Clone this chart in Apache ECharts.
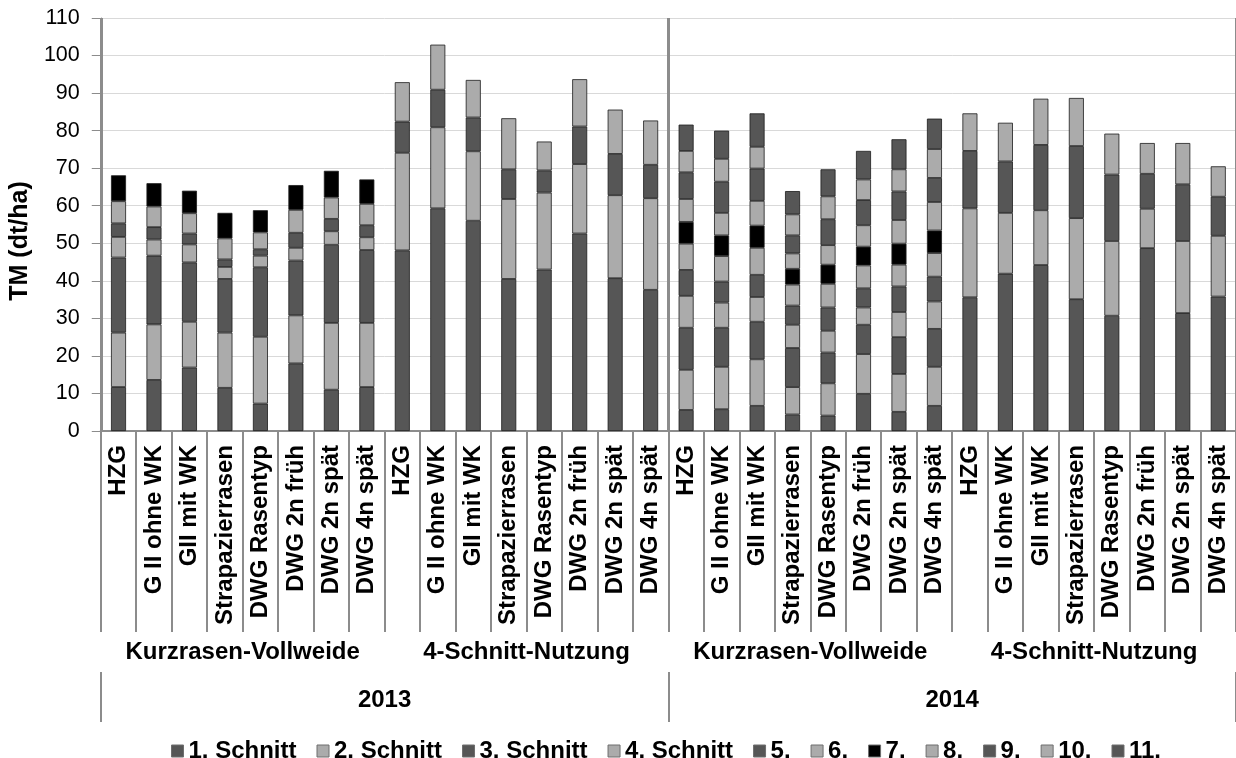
<!DOCTYPE html>
<html>
<head>
<meta charset="utf-8">
<script src="https://cdn.jsdelivr.net/npm/echarts@6/dist/echarts.min.js"></script>
<style>
html,body{margin:0;padding:0;background:#fff;}
#chart{width:1236px;height:758px;}
</style>
</head>
<body>
<div id="chart"></div>
<script>
const categories = ["HZG","G II ohne WK","GII mit WK","Strapazierrasen","DWG Rasentyp","DWG 2n früh","DWG 2n spät","DWG 4n spät",
  "HZG","G II ohne WK","GII mit WK","Strapazierrasen","DWG Rasentyp","DWG 2n früh","DWG 2n spät","DWG 4n spät",
  "HZG","G II ohne WK","GII mit WK","Strapazierrasen","DWG Rasentyp","DWG 2n früh","DWG 2n spät","DWG 4n spät",
  "HZG","G II ohne WK","GII mit WK","Strapazierrasen","DWG Rasentyp","DWG 2n früh","DWG 2n spät","DWG 4n spät"];
const groups = ["Kurzrasen-Vollweide","4-Schnitt-Nutzung","Kurzrasen-Vollweide","4-Schnitt-Nutzung"];
const years = ["2013","2014"];
const seriesNames = ["1. Schnitt","2. Schnitt","3. Schnitt","4. Schnitt","5.","6.","7.","8.","9.","10.","11."];
const yTicks = {min:0, max:110, interval:10};

const cut1  = [11.7,13.6,16.9,11.5,7.3,18.0,11.0,11.7, 48.1,59.3,56.0,40.5,43.0,52.6,40.7,37.6, 5.6,5.8,6.7,4.4,4.1,9.9,5.1,6.7, 35.6,41.9,44.2,35.1,30.7,48.7,31.4,35.8];
const cut2  = [14.5,14.8,12.2,14.7,17.8,12.8,17.8,17.1, 26.0,21.6,18.5,21.3,20.5,18.5,22.1,24.4, 10.7,11.3,12.4,7.3,8.6,10.6,10.1,10.4, 23.7,16.2,14.6,21.6,19.9,10.5,19.2,16.2];
const cut3  = [20.0,18.3,15.8,14.3,18.5,14.6,20.8,19.4, 8.3,10.0,9.0,7.9,5.9,10.0,11.0,8.9, 11.2,10.4,10.0,10.4,8.2,7.8,9.8,10.1, 15.3,13.7,17.4,19.2,17.7,9.3,15.1,10.4];
const cut4  = [5.5,4.3,4.8,3.2,3.1,3.4,3.6,3.4, 10.5,12.0,10.0,13.6,7.7,12.6,11.8,11.8, 8.5,6.7,6.6,6.2,5.8,4.6,6.7,7.3, 10.0,10.3,12.3,12.8,10.9,8.2,11.0,8.1];
const cut5  = [3.6,3.3,2.9,2.0,1.7,4.0,3.3,3.2, null,null,null,null,null,null,null,null, 6.9,5.6,5.9,5.1,6.2,5.1,6.8,6.6, null,null,null,null,null,null,null,null];
const cut6  = [5.9,5.5,5.4,5.6,4.5,6.1,5.7,5.7, null,null,null,null,null,null,null,null, 7.0,6.8,7.2,5.6,6.3,6.1,5.8,6.3, null,null,null,null,null,null,null,null];
const cut7  = [6.9,6.2,6.0,6.8,5.9,6.6,7.1,6.5, null,null,null,null,null,null,null,null, 5.8,5.5,5.9,4.2,5.1,5.0,5.6,6.0, null,null,null,null,null,null,null,null];
const cut8  = [null,null,null,null,null,null,null,null, null,null,null,null,null,null,null,null, 6.1,6.0,6.6,4.1,5.2,5.7,6.3,7.6, null,null,null,null,null,null,null,null];
const cut9  = [null,null,null,null,null,null,null,null, null,null,null,null,null,null,null,null, 7.1,8.3,8.6,4.8,6.9,6.7,7.6,6.4, null,null,null,null,null,null,null,null];
const cut10 = [null,null,null,null,null,null,null,null, null,null,null,null,null,null,null,null, 5.7,6.1,5.8,5.6,6.1,5.5,5.9,7.7, null,null,null,null,null,null,null,null];
const cut11 = [null,null,null,null,null,null,null,null, null,null,null,null,null,null,null,null, 7.0,7.5,8.9,6.2,7.2,7.6,8.0,8.1, null,null,null,null,null,null,null,null];
const cuts = [cut1,cut2,cut3,cut4,cut5,cut6,cut7,cut8,cut9,cut10,cut11];

const DARK = '#565656', LIGHT = '#ababab', BLACK = '#000000';
const colors = [DARK,LIGHT,DARK,LIGHT,DARK,LIGHT,BLACK,LIGHT,DARK,LIGHT,DARK];
const FONT = '"Liberation Sans", Arial, sans-serif';
const AXIS_GRAY = '#8c8c8c';

const chart = echarts.init(document.getElementById('chart'), null, {renderer:'canvas'});
const series = seriesNames.map((n,i)=>({
  name:n, type:'bar', stack:'tm', xAxisIndex:0, yAxisIndex:0,
  barWidth:15,
  itemStyle:{color:colors[i], borderColor:'#1c1c1c', borderWidth:0.8},
  data:cuts[i]
}));

chart.setOption({
  animation:false,
  backgroundColor:'#fff',
  textStyle:{fontFamily:FONT},
  color:colors,
  grid:{left:95, right:0, top:18, bottom:327, containLabel:false},
  legend:{
    top:734, left:166,
    itemWidth:12, itemHeight:12, itemGap:20,
    icon:'rect',
    itemStyle:{borderColor:'#6e6e6e', borderWidth:1},
    textStyle:{fontFamily:FONT, fontWeight:'bold', fontSize:24, color:'#000'},
    data:seriesNames
  },
  yAxis:{
    type:'value', min:yTicks.min, max:yTicks.max, interval:yTicks.interval,
    name:'TM (dt/ha)', nameLocation:'middle', nameGap:63, nameRotate:90,
    nameTextStyle:{fontFamily:FONT, fontWeight:'bold', fontSize:25, color:'#000', padding:[0,33,0,0]},
    axisLine:{show:true, lineStyle:{color:AXIS_GRAY, width:1}},
    axisTick:{show:true, length:9, lineStyle:{color:AXIS_GRAY}},
    axisLabel:{fontFamily:FONT, fontSize:21.5, color:'#000', margin:21},
    splitLine:{show:true, lineStyle:{color:'#d9d9d9', width:1}}
  },
  xAxis:[
    {
      type:'category', data:categories, position:'bottom', boundaryGap:true,
      axisLine:{show:true, onZero:false, lineStyle:{color:AXIS_GRAY, width:2}},
      axisTick:{show:true, interval:0, length:201, lineStyle:{color:AXIS_GRAY, width:2}},
      axisLabel:{interval:0, rotate:90, fontFamily:FONT, fontWeight:'bold', fontSize:24, color:'#000', margin:14},
      splitLine:{show:false}
    },
    {
      type:'category', data:groups, position:'bottom', offset:201, boundaryGap:true,
      axisLine:{show:false},
      axisTick:{show:true, interval:0, length:40, lineStyle:{color:AXIS_GRAY, width:2}},
      axisLabel:{interval:0, fontFamily:FONT, fontWeight:'bold', fontSize:24, color:'#000', margin:8},
      splitLine:{show:false}
    },
    {
      type:'category', data:years, position:'bottom', offset:241, boundaryGap:true,
      axisLine:{show:false},
      axisTick:{show:true, interval:0, length:50, lineStyle:{color:AXIS_GRAY, width:2}},
      axisLabel:{interval:0, fontFamily:FONT, fontWeight:'bold', fontSize:24, color:'#000', margin:16},
      splitLine:{show:true, interval:0, lineStyle:{color:AXIS_GRAY, width:3}}
    }
  ],
  series:series
});
</script>
</body>
</html>
